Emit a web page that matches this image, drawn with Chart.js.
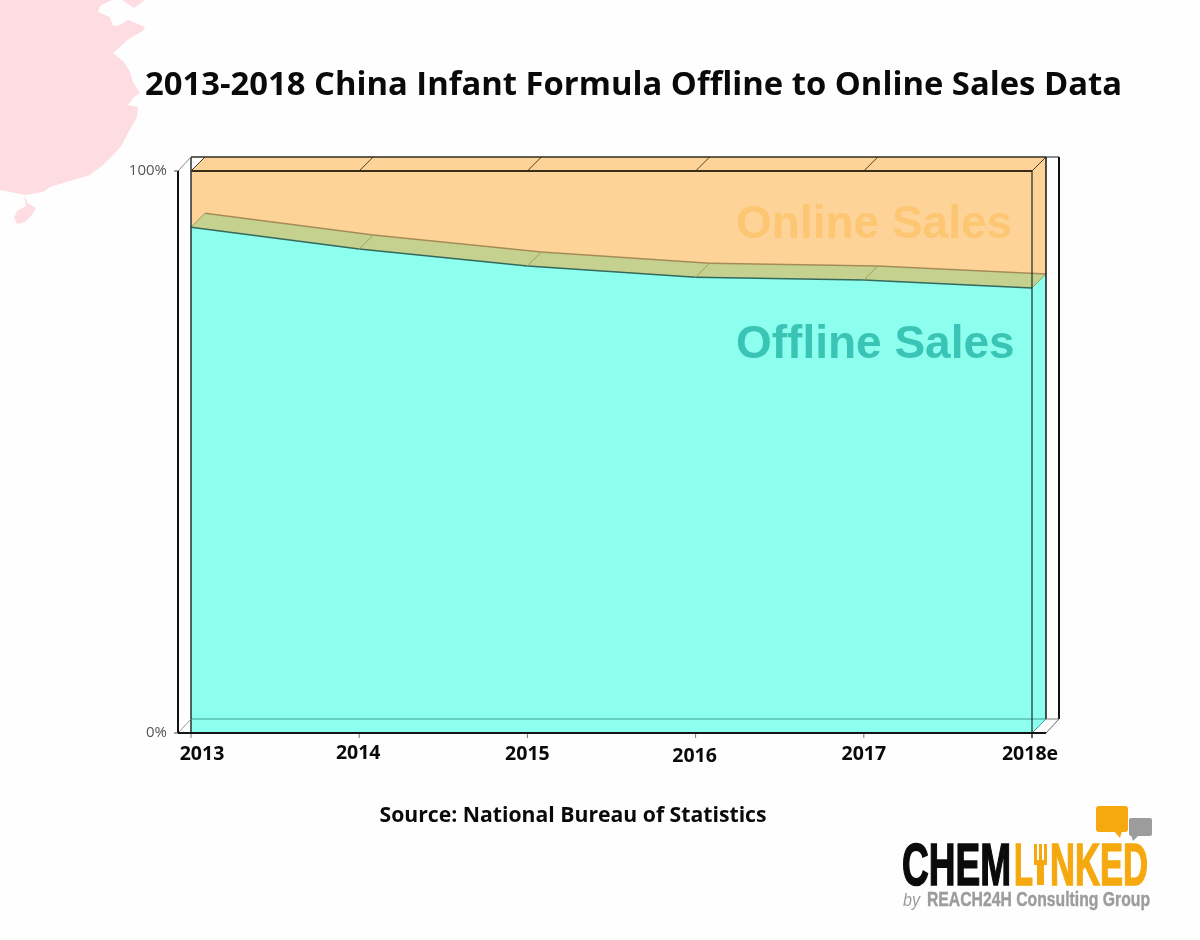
<!DOCTYPE html>
<html>
<head>
<meta charset="utf-8">
<title>China Infant Formula Offline to Online Sales</title>
<script src="https://cdn.jsdelivr.net/npm/chart.js@4"></script>
<style>
html,body{margin:0;padding:0;background:#fefefe}
canvas{display:block}
</style>
</head>
<body>
<canvas id="chart" width="1200" height="940"></canvas>
<script>
// Sales share by channel, percent
const years = ['2013', '2014', '2015', '2016', '2017', '2018e'];
const offlineSales = [90.0, 86.1, 83.1, 81.1, 80.6, 79.2];
const onlineSales = [10.0, 13.9, 16.9, 18.9, 19.4, 20.8];
const shareTicks = [0, 100];
const titleText = '2013-2018 China Infant Formula Offline to Online Sales Data';
const sourceText = 'Source: National Bureau of Statistics';

const DEPTH = 14;
const WALL = 13;
const ORANGE = '#fed398';
const TEAL = '#8cffee';
const BAND = '#c5d28f';

function poly(ctx, pts, fill, stroke, width) {
  ctx.beginPath();
  pts.forEach((p, i) => i ? ctx.lineTo(p[0], p[1]) : ctx.moveTo(p[0], p[1]));
  ctx.closePath();
  if (fill) { ctx.fillStyle = fill; ctx.fill(); }
  if (stroke) { ctx.strokeStyle = stroke; ctx.lineWidth = width || 1; ctx.stroke(); }
}
function seg(ctx, x1, y1, x2, y2, color, width) {
  ctx.beginPath();
  ctx.moveTo(x1, y1);
  ctx.lineTo(x2, y2);
  ctx.strokeStyle = color;
  ctx.lineWidth = width || 1;
  ctx.stroke();
}

// Faint map of the eastern coast in the page corner
function drawMap(ctx) {
  const coast = [[112,0],[100,6],[98,12],[110,17],[113,26],[120,25],[128,20],[138,24],[145,27],[143,31],
    [130,38],[122,45],[113,53],[124,62],[130,72],[133,82],[140,93],[133,98],[128,105],[138,107],
    [137,117],[128,133],[122,145],[115,153],[103,165],[90,175],[76,179],[63,183],[50,187],[43,192],
    [25,195],[10,192],[0,190],[0,0]];
  poly(ctx, coast, '#fddde1');
  poly(ctx, [[24,195],[28,204],[31,205],[36,208],[32,215],[25,222],[17,224],[14,218],[17,211],[26,206]], '#fddde1');
  poly(ctx, [[122,0],[145,0],[134,8]], '#fddde1');
}

// Company mark in the lower right corner
function drawLogo(ctx) {
  ctx.save();
  ctx.textAlign = 'left';
  ctx.textBaseline = 'alphabetic';
  const orange = '#f5a90f';
  const gray = '#9c9c9c';

  ctx.fillStyle = orange;
  ctx.beginPath();
  ctx.roundRect(1096, 806, 32, 26, 3);
  ctx.fill();
  poly(ctx, [[1114, 831], [1122, 831], [1120, 838]], orange);
  ctx.fillStyle = gray;
  ctx.beginPath();
  ctx.roundRect(1129, 818, 23, 18, 2);
  ctx.fill();
  poly(ctx, [[1131, 835], [1139, 835], [1133, 841]], gray);

  ctx.font = 'bold 59px "Liberation Sans"';
  ctx.lineWidth = 1.6;
  ctx.fillStyle = ctx.strokeStyle = '#0b0b0b';
  ctx.fillText('CHEM', 902, 885, 109);
  ctx.strokeText('CHEM', 902, 885, 109);
  ctx.fillStyle = ctx.strokeStyle = orange;
  ctx.fillText('L', 1014, 885, 19);
  ctx.strokeText('L', 1014, 885, 19);
  ctx.fillText('NKED', 1050, 885, 98);
  ctx.strokeText('NKED', 1050, 885, 98);

  // Fork standing in for the letter I
  ctx.fillRect(1034, 844, 3, 18);
  ctx.fillRect(1039, 844, 3, 18);
  ctx.fillRect(1044, 844, 3, 18);
  ctx.fillRect(1034, 860, 13, 5);
  ctx.fillRect(1037, 864, 7, 21);

  ctx.fillStyle = ctx.strokeStyle = gray;
  ctx.font = 'italic 19px "Liberation Sans"';
  ctx.fillText('by', 903, 906, 17);
  ctx.font = 'bold 20px "Liberation Sans"';
  ctx.lineWidth = 0.4;
  ctx.fillText('REACH24H Consulting Group', 927, 906, 223);
  ctx.strokeText('REACH24H Consulting Group', 927, 906, 223);
  ctx.restore();
}

const cage = {
  id: 'cage',
  beforeDraw(chart) {
    const ctx = chart.ctx;
    ctx.save();
    ctx.fillStyle = '#fefefe';
    ctx.fillRect(0, 0, chart.width, chart.height);
    drawMap(ctx);
    ctx.restore();
  },
  beforeDatasetsDraw(chart) {
    const ctx = chart.ctx;
    const xs = chart.scales.x, ys = chart.scales.y;
    const top = ys.getPixelForValue(100), base = ys.getPixelForValue(0);
    const left = xs.getPixelForValue(0), right = xs.getPixelForValue(years.length - 1);
    const endY = ys.getPixelForValue(offlineSales[offlineSales.length - 1]);
    ctx.save();

    // Top of the stack and the right-hand side faces
    poly(ctx, [[left, top], [left + DEPTH, top - DEPTH], [right + DEPTH, top - DEPTH], [right, top]], ORANGE);
    poly(ctx, [[right, top], [right + DEPTH, top - DEPTH], [right + DEPTH, endY - DEPTH], [right, endY]], ORANGE);
    poly(ctx, [[right, endY], [right + DEPTH, endY - DEPTH], [right + DEPTH, base - DEPTH], [right, base]], TEAL);
    ctx.restore();
  },
  afterDatasetsDraw(chart) {
    const ctx = chart.ctx;
    const xs = chart.scales.x, ys = chart.scales.y;
    const top = ys.getPixelForValue(100), base = ys.getPixelForValue(0);
    const left = xs.getPixelForValue(0), right = xs.getPixelForValue(years.length - 1);
    const axisX = left - WALL;
    ctx.save();

    // Ridge between the two channels, from front edge to back edge
    for (let i = 0; i < years.length - 1; i++) {
      const x0 = xs.getPixelForValue(i), x1 = xs.getPixelForValue(i + 1);
      const y0 = ys.getPixelForValue(offlineSales[i]), y1 = ys.getPixelForValue(offlineSales[i + 1]);
      poly(ctx, [[x0, y0], [x0 + DEPTH, y0 - DEPTH], [x1 + DEPTH, y1 - DEPTH], [x1, y1]], BAND);
    }
    for (let i = 0; i < years.length - 1; i++) {
      const x0 = xs.getPixelForValue(i), x1 = xs.getPixelForValue(i + 1);
      const y0 = ys.getPixelForValue(offlineSales[i]), y1 = ys.getPixelForValue(offlineSales[i + 1]);
      seg(ctx, x0 + DEPTH, y0 - DEPTH, x1 + DEPTH, y1 - DEPTH, '#a58c57', 1.5);
      seg(ctx, x0, y0, x1, y1, '#34685a', 1.5);
    }
    years.forEach((_, i) => {
      const x = xs.getPixelForValue(i), y = ys.getPixelForValue(offlineSales[i]);
      seg(ctx, x, y, x + DEPTH, y - DEPTH, '#98a060', 1);
      seg(ctx, x, top, x + DEPTH, top - DEPTH, '#4d3f22', 1);
      seg(ctx, x, base, x, base + 5, '#777', 1);
    });

    // Wire frame
    seg(ctx, left, base - DEPTH, right + DEPTH, base - DEPTH, '#3f9f93', 1);
    seg(ctx, left, top - DEPTH, right + DEPTH, top - DEPTH, '#2c2c20', 1.5);
    seg(ctx, right + DEPTH, top - DEPTH, right + DEPTH + WALL, top - DEPTH, '#666', 1.5);
    seg(ctx, left, top, right, top, '#3a2e18', 2);
    seg(ctx, left, top - DEPTH, left, base, '#26332f', 1.5);
    seg(ctx, right, top, right, base + 5, '#1c2a28', 1.2);
    seg(ctx, right + DEPTH, top - DEPTH, right + DEPTH, base - DEPTH, '#161616', 1.5);
    seg(ctx, right + DEPTH + WALL, top - DEPTH, right + DEPTH + WALL, base - DEPTH, '#111', 2);
    seg(ctx, right + DEPTH, base - DEPTH, right + DEPTH + WALL, base - DEPTH, '#777', 1);
    seg(ctx, right + DEPTH, base, right + DEPTH + WALL, base - DEPTH, '#666', 1);
    seg(ctx, right, base, right + DEPTH, base - DEPTH, '#3f9f93', 1);
    seg(ctx, axisX, top, axisX + WALL, top - DEPTH, '#888', 1);
    seg(ctx, axisX, base, axisX + WALL, base - DEPTH, '#999', 1);
    seg(ctx, axisX, top, axisX, base, '#111', 2);
    seg(ctx, axisX, base, right + DEPTH, base, '#141414', 2);
    seg(ctx, axisX - 4, top, axisX, top, '#444', 1);
    seg(ctx, axisX - 4, base, axisX, base, '#444', 1);

    // Year labels beneath the axis
    const labelDx = [11, -1, 0, -1, 0, -2];
    const labelDy = [21, 20, 21, 23, 21, 21];
    ctx.font = 'bold 19.5px "Open Sans"';
    ctx.fillStyle = '#0a0a0a';
    ctx.textAlign = 'center';
    ctx.textBaseline = 'middle';
    years.forEach((year, i) => {
      ctx.fillText(year, xs.getPixelForValue(i) + labelDx[i], base + labelDy[i]);
    });

    // Channel names over the areas
    ctx.font = 'bold 46px "Liberation Sans"';
    ctx.textAlign = 'left';
    ctx.fillStyle = '#fdc672';
    ctx.fillText('Online Sales', 736, 225);
    ctx.fillStyle = '#3ac4b5';
    ctx.fillText('Offline Sales', 736, 345);

    // Heading and source note
    ctx.font = 'bold 33px "Open Sans"';
    ctx.fillStyle = '#0a0a0a';
    ctx.textAlign = 'left';
    ctx.fillText(titleText, 145, 86, 977);
    ctx.font = 'bold 21.2px "Open Sans"';
    ctx.textAlign = 'center';
    ctx.fillText(sourceText, 573, 816);

    drawLogo(ctx);
    ctx.restore();
  }
};

new Chart(document.getElementById('chart'), {
  type: 'line',
  data: {
    labels: years,
    datasets: [
      {
        label: 'Offline Sales',
        data: offlineSales,
        fill: 'origin',
        backgroundColor: TEAL,
        borderColor: 'rgba(0,0,0,0)',
        borderWidth: 0,
        pointRadius: 0,
        tension: 0
      },
      {
        label: 'Online Sales',
        data: onlineSales,
        fill: '-1',
        backgroundColor: ORANGE,
        borderColor: 'rgba(0,0,0,0)',
        borderWidth: 0,
        pointRadius: 0,
        tension: 0
      }
    ]
  },
  plugins: [cage],
  options: {
    responsive: false,
    animation: false,
    layout: { padding: { left: 100, right: 168, top: 171, bottom: 207 } },
    plugins: {
      legend: { display: false },
      tooltip: { enabled: false },
      title: { display: false }
    },
    scales: {
      x: {
        offset: false,
        grid: { display: false, drawTicks: false },
        border: { display: false },
        ticks: { display: false },
        afterFit(scale) { scale.height = 0; }
      },
      y: {
        stacked: true,
        min: 0,
        max: 100,
        afterBuildTicks(scale) { scale.ticks = shareTicks.map(value => ({ value })); },
        afterFit(scale) { scale.width = 91; },
        grid: { display: false, drawTicks: false },
        border: { display: false },
        ticks: {
          color: '#555',
          padding: 24,
          font: { family: '"Open Sans"', size: 15 },
          callback: value => value + '%'
        }
      }
    }
  }
});
</script>
</body>
</html>
